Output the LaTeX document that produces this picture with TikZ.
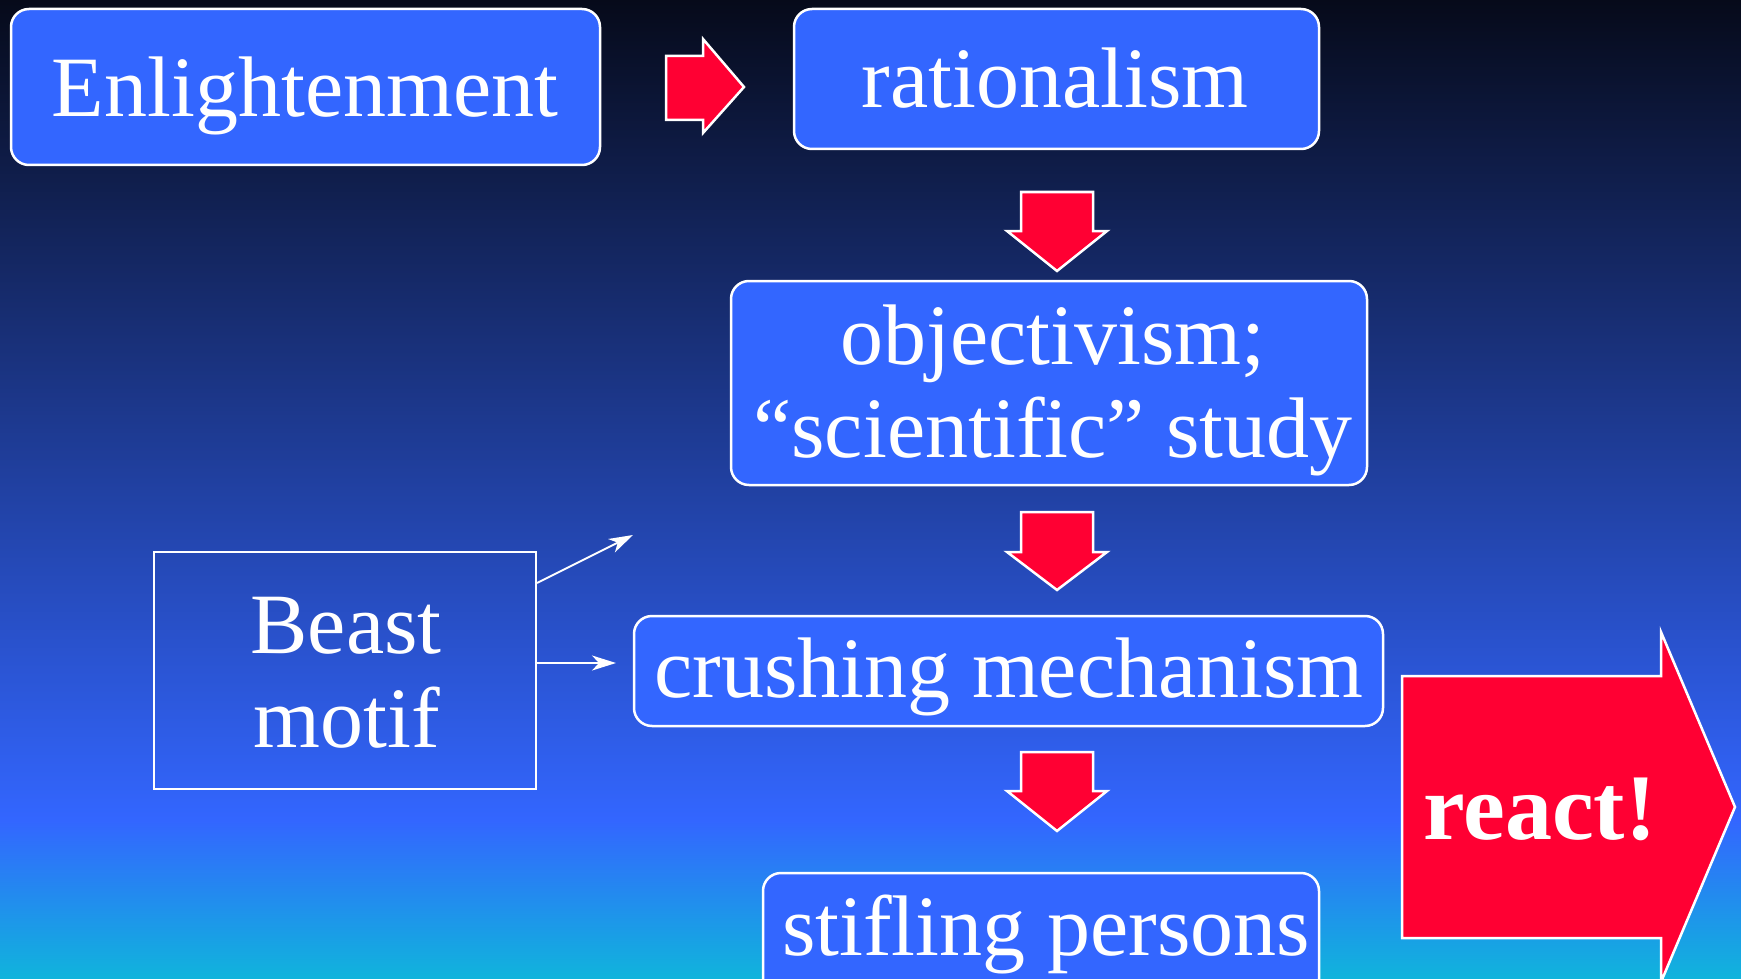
\documentclass[tikz,border=0pt]{standalone}
\usepackage{fontspec}
\setmainfont{Liberation Serif}
\usetikzlibrary{arrows.meta}
\definecolor{boxblue}{HTML}{3366FF}
\definecolor{arrred}{HTML}{FF0033}
\definecolor{bgtop}{HTML}{060A1A}
\definecolor{bgmid}{HTML}{3366FF}
\definecolor{bgbot}{HTML}{10B4DC}
\begin{document}
\begin{tikzpicture}[x=1pt,y=-1pt,
  box/.style={draw=white, line width=2.5pt, fill=boxblue, rounded corners=18pt, inner sep=0pt},
  plainbox/.style={draw=white, line width=2pt, inner sep=0pt},
  lbl/.style={text=white, font=\fontsize{86}{94}\selectfont, anchor=base, inner sep=0pt},
  boldlbl/.style={text=white, font=\fontsize{94}{100}\selectfont\bfseries, anchor=base, inner sep=0pt},
  blockarrow/.style={draw=white, line width=2.5pt, fill=arrred, line join=miter},
  thinarrow/.style={draw=white, line width=2pt, -{Stealth[length=24pt,width=15pt,inset=7pt]}}
]
\useasboundingbox (0,0) rectangle (1741,979);
\clip (0,0) rectangle (1741,979);
% background
\shade[top color=bgtop, bottom color=bgmid] (0,0) rectangle (1741,821);
\shade[top color=bgmid, bottom color=bgbot] (0,820) rectangle (1741,979);

% boxes
\node[box, minimum width=589pt, minimum height=156pt] (enl) at (305.5,87) {};
\node[box, minimum width=525pt, minimum height=140pt] (rat) at (1056.5,79) {};
\node[box, minimum width=636pt, minimum height=204pt] (obj) at (1049,383) {};
\node[box, minimum width=749pt, minimum height=110pt] (cru) at (1008.5,671) {};
\node[box, minimum width=556pt, minimum height=130pt] (sti) at (1041,938) {};
\node[plainbox, minimum width=382pt, minimum height=237pt] (beast) at (345,670.5) {};

% texts
\node[lbl] (tenl) at (305,117) {Enlightenment};
\node[lbl] (trat) at (1055,108) {rationalism};
\node[lbl] (tobj1) at (1053,364) {objectivism;};
\node[lbl] (tobj2) at (1053,457) {“scientific” study};
\node[lbl] (tcru) at (1009,697) {crushing mechanism};
\node[lbl] (tsti) at (1046,955) {stifling persons};
\node[lbl] (tbeast1) at (346,653) {Beast};
\node[lbl] (tbeast2) at (347,747) {motif};

% block arrows
\draw[blockarrow] (666,56) -- (703,56) -- (703,39) -- (744,87) -- (703,133) -- (703,120) -- (666,120) -- cycle;
\draw[blockarrow] (1021,192) -- (1093,192) -- (1093,231) -- (1107,231) -- (1057,271) -- (1007,231) -- (1021,231) -- cycle;
\draw[blockarrow] (1021,512) -- (1093,512) -- (1093,552) -- (1107,552) -- (1057,590) -- (1007,552) -- (1021,552) -- cycle;
\draw[blockarrow] (1021,752) -- (1093,752) -- (1093,791) -- (1107,791) -- (1057,831) -- (1007,791) -- (1021,791) -- cycle;
\draw[blockarrow] (1402,676) -- (1661,676) -- (1661,632) -- (1735,807) -- (1661,982) -- (1661,938) -- (1402,938) -- cycle;
\node[boldlbl] (treact) at (1540,839) {react!};

% thin arrows from Beast box
\coordinate (up) at (633,535);
\coordinate (rt) at (616,663);
\draw[thinarrow] (beast.east |- 0,583) -- (up);
\draw[thinarrow] (beast.east |- 0,663) -- (rt);
\end{tikzpicture}
\end{document}
